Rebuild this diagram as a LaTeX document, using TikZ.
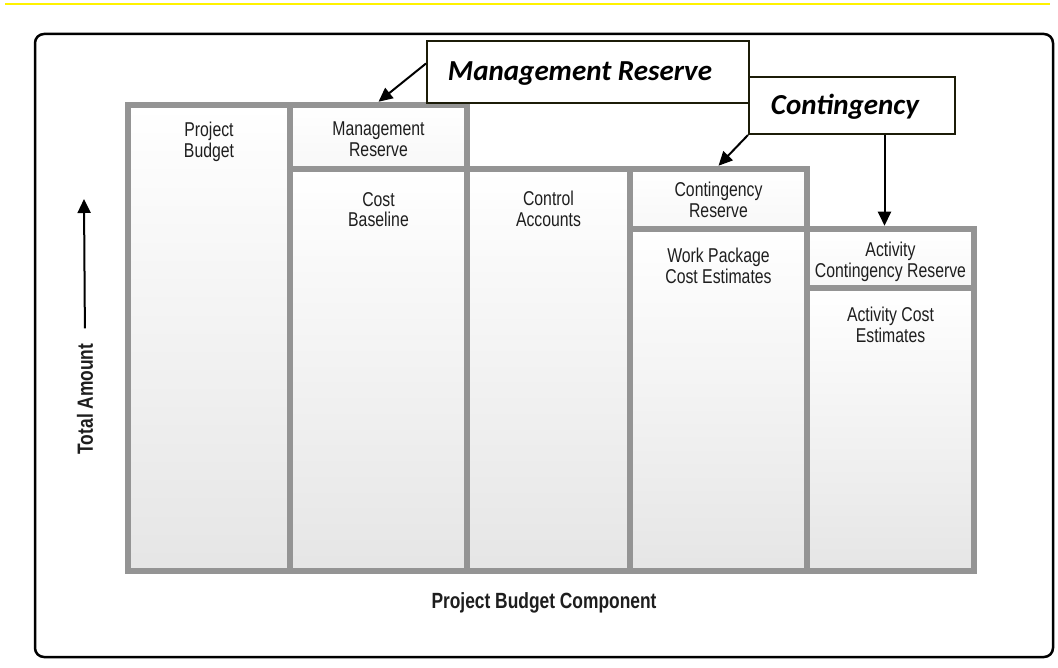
\documentclass[tikz,border=0pt]{standalone}
\usepackage{fontspec}
\setmainfont{Liberation Sans}
\newfontfamily\condfont{Liberation Sans}[FakeStretch=0.79]
\newfontfamily\calloutfont{Carlito}
\usetikzlibrary{arrows.meta,calc}
\definecolor{barGray}{RGB}{148,148,148}
\definecolor{calloutEdge}{RGB}{28,28,8}
\definecolor{labelInk}{RGB}{30,30,30}
\begin{document}
\begin{tikzpicture}[x=1pt,y=-1pt,
  cell/.style={draw=barGray, line width=6.5pt, inner sep=0pt,
    top color=white, bottom color=gray!20},
  smallcell/.style={cell, bottom color=gray!6},
  celltext/.style={anchor=north, inner sep=0pt, align=center, text=labelInk,
    font=\condfont\fontsize{20}{20.5}\selectfont},
  callout/.style={draw=calloutEdge, line width=2pt, fill=white, inner sep=0pt},
  callouttext/.style={anchor=base, inner sep=0pt,
    font=\calloutfont\bfseries\itshape\fontsize{29}{32}\selectfont},
  arr/.style={line width=2pt, -{Triangle[length=14pt,width=13pt]}},
  axislabel/.style={inner sep=0pt, text=labelInk,
    font=\condfont\bfseries\fontsize{22}{24}\selectfont}]

\useasboundingbox (0,0) rectangle (1058,668);
\fill[white] (0,0) rectangle (1058,668);

% top rule and outer frame
\draw[yellow, line width=2pt] (5,4.5) -- (1050,4.5);
\draw[line width=2.5pt, rounded corners=9pt] (35,34) rectangle (1053,657);

% budget columns
\node[cell, minimum width=162pt, minimum height=466pt] (c1) at (209,338) {};
\node[cell, minimum width=177pt, minimum height=402pt] (c2b) at (378.5,370) {};
\node[smallcell, minimum width=177pt, minimum height=64pt] (c2a) at (378.5,137) {};
\node[cell, minimum width=163pt, minimum height=402pt] (c3) at (548.5,370) {};
\node[cell, minimum width=177pt, minimum height=342pt] (c4b) at (718.5,400) {};
\node[smallcell, minimum width=177pt, minimum height=60pt] (c4a) at (718.5,199) {};
\node[cell, minimum width=167pt, minimum height=283pt] (c5b) at (890.5,429.5) {};
\node[smallcell, minimum width=167pt, minimum height=59pt] (c5a) at (890.5,258.5) {};

% column labels
\node[celltext] (t1) at (209,122) {Project\\Budget};
\node[celltext] (t2a) at (378.5,122) {Management\\Reserve};
\node[celltext] (t2b) at (378.5,192) {Cost\\Baseline};
\node[celltext] (t3) at (548.5,191) {Control\\Accounts};
\node[celltext] (t4a) at (718.5,182) {Contingency\\Reserve};
\node[celltext] (t4b) at (718.5,248) {Work Package\\Cost Estimates};
\node[celltext] (t5a) at (890.5,242) {Activity\\Contingency Reserve};
\node[celltext] (t5b) at (890.5,307) {Activity Cost\\Estimates};

% axes
\node[axislabel, rotate=90] (ta) at (85,399) {Total Amount};
\coordinate (tatop) at (84,199);
\draw[arr, shorten <=15pt] (ta.east) -- (tatop);
\node[axislabel] (title) at (544,603) {Project Budget Component};

% callouts
\node[callout, minimum width=322pt, minimum height=62pt] (mr) at (588,72) {};
\node[callouttext] (mrtext) at (580,81) {Management Reserve};
\node[callout, minimum width=206pt, minimum height=57pt] (ct) at (852,105.5) {};
\node[callouttext] (cttext) at (845,115) {Contingency};

\draw[arr] (mr.177) -- (c2a.north);
\draw[arr] (ct.south west) -- (c4a.north);
\coordinate (c5tip) at ([xshift=-6pt]c5a.north);
\draw[arr] (ct.south -| c5tip) -- (c5tip);

\end{tikzpicture}
\end{document}
